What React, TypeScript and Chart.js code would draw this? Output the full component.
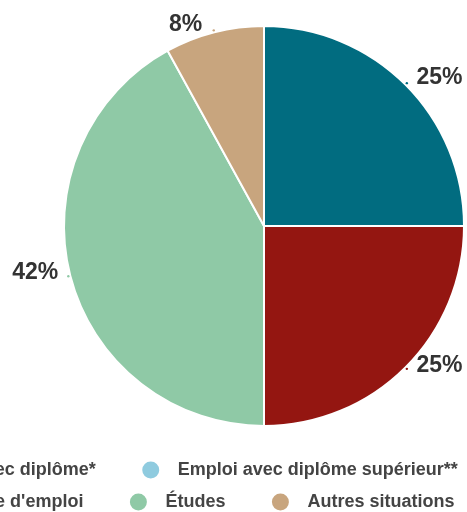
import React, { useEffect, useRef } from "react";
import { Chart, registerables } from "chart.js";

Chart.register(...registerables);

const categories: string[] = [
  "Emploi avec diplôme*",
  "Emploi avec diplôme supérieur**",
  "Recherche d'emploi",
  "Études",
  "Autres situations",
];
const shares: number[] = [25, 0, 25, 42, 8];
const sliceColors: string[] = ["#016c80", "#8fcbdf", "#941611", "#8fc9a6", "#c8a57e"];

const FONT = '"Liberation Sans", Arial, Helvetica, sans-serif';

const outLabels = {
  id: "outLabels",
  afterDatasetsDraw(chart: any) {
    const ctx = chart.ctx;
    const meta = chart.getDatasetMeta(0);
    const data = chart.data.datasets[0].data as number[];
    ctx.save();
    meta.data.forEach((arc: any, i: number) => {
      const v = data[i];
      if (!v) return;
      const p = arc.getProps(["x", "y", "startAngle", "endAngle", "outerRadius"], true);
      const mid = (p.startAngle + p.endAngle) / 2;
      const dx = Math.cos(mid);
      const dy = Math.sin(mid);
      const ex = p.x + dx * p.outerRadius;
      const ey = p.y + dy * p.outerRadius;
      // small connector dot
      ctx.fillStyle = sliceColors[i];
      ctx.beginPath();
      ctx.arc(p.x + dx * (p.outerRadius + 2), p.y + dy * (p.outerRadius + 2), 1.2, 0, Math.PI * 2);
      ctx.fill();
      const right = dx >= 0;
      ctx.font = `bold 23px ${FONT}`;
      ctx.fillStyle = "#333333";
      ctx.textBaseline = "middle";
      ctx.textAlign = right ? "left" : "right";
      const lx = ex + (right ? 11 : -12);
      const ly = ey - 3.9 + 3.7 * dy;
      ctx.fillText(`${v}%`, lx, ly);
    });
    ctx.restore();
  },
};

const customLegend = {
  id: "customLegend",
  afterDraw(chart: any) {
    const ctx = chart.ctx;
    const centerX = 166;
    const maxWidth = 600;
    const firstRowY = 470;
    const rowGap = 32;
    const dotR = 8.5;
    const textOff = 35.5;
    const itemGap = 46.5;
    ctx.save();
    ctx.font = `bold 18px ${FONT}`;
    const widths = categories.map((c) => ctx.measureText(c).width);
    const rows: number[][] = [];
    let cur: number[] = [];
    let curW = 0;
    categories.forEach((_, i) => {
      const w = textOff + widths[i];
      const add = cur.length ? itemGap + w : w;
      if (cur.length && curW + add > maxWidth) {
        rows.push(cur);
        cur = [i];
        curW = w;
      } else {
        cur.push(i);
        curW += add;
      }
    });
    if (cur.length) rows.push(cur);
    rows.forEach((row, r) => {
      const rowW = row.reduce((s, i, k) => s + textOff + widths[i] + (k ? itemGap : 0), 0);
      let x = centerX - rowW / 2;
      const y = firstRowY + r * rowGap;
      row.forEach((i) => {
        ctx.fillStyle = sliceColors[i];
        ctx.beginPath();
        ctx.arc(x + dotR, y, dotR, 0, Math.PI * 2);
        ctx.fill();
        ctx.fillStyle = "#444444";
        ctx.textAlign = "left";
        ctx.textBaseline = "middle";
        ctx.fillText(categories[i], x + textOff, y);
        x += textOff + widths[i] + itemGap;
      });
    });
    ctx.restore();
  },
};

export default function App() {
  const ref = useRef<HTMLCanvasElement | null>(null);
  useEffect(() => {
    if (!ref.current) return;
    const chart = new Chart(ref.current, {
      type: "pie",
      data: {
        labels: categories,
        datasets: [
          {
            data: shares,
            backgroundColor: sliceColors,
            borderColor: "#ffffff",
            borderWidth: 2,
          },
        ],
      },
      options: {
        responsive: false,
        animation: false,
        radius: 200,
        layout: { padding: { left: 64, right: 3, top: 26, bottom: 86 } },
        plugins: {
          legend: { display: false },
          tooltip: { enabled: false },
        },
      } as any,
      plugins: [outLabels, customLegend],
    });
    return () => chart.destroy();
  }, []);
  return (
    <div
      style={{
        position: "fixed",
        left: 0,
        top: 0,
        width: 467,
        height: 512,
        overflow: "hidden",
        background: "#ffffff",
      }}
    >
      <canvas ref={ref} width={467} height={512} style={{ display: "block", width: 467, height: 512 }} />
    </div>
  );
}
